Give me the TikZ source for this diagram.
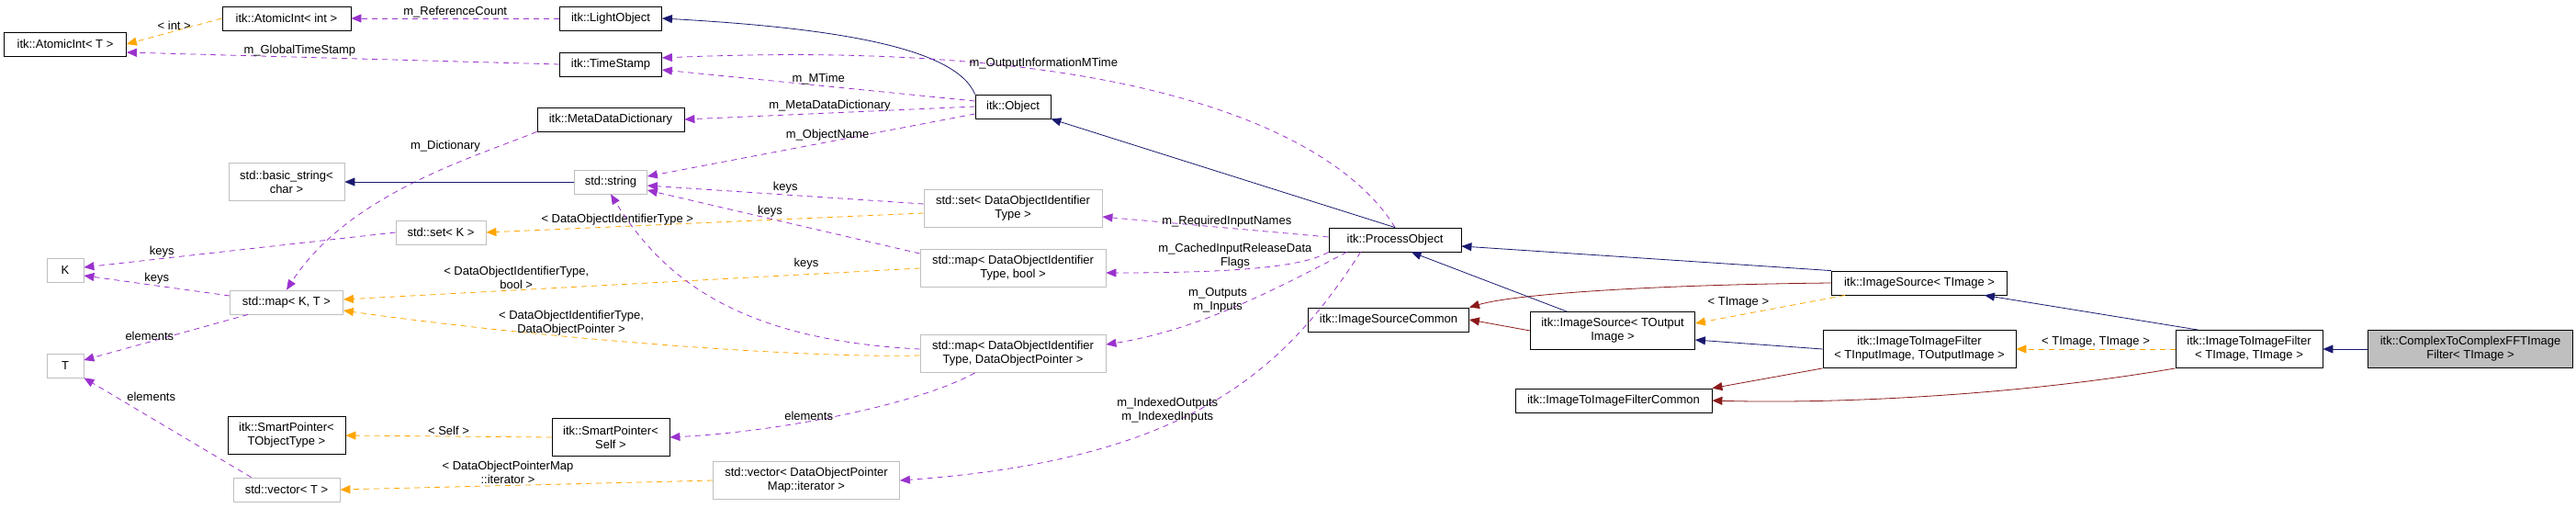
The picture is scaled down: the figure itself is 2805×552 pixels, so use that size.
\documentclass[tikz,border=0pt]{standalone}
\usepackage{fontspec}
\setmainfont{Liberation Sans}
\usetikzlibrary{arrows.meta,calc}
\definecolor{inh}{HTML}{191970}
\definecolor{usec}{HTML}{9A32CD}
\definecolor{tmpl}{HTML}{FFA500}
\definecolor{dred}{HTML}{8B1A1A}
\definecolor{gbord}{HTML}{BFBFBF}
\begin{document}
\begin{tikzpicture}[x=1pt,y=-1pt,font=\fontsize{13}{15}\selectfont,
  cls/.style={draw=black,thick,inner sep=0pt,minimum height=26pt,align=center,fill=white},
  stdc/.style={draw=gbord,thick,inner sep=0pt,minimum height=26pt,align=center,fill=white},
  tall/.style={minimum height=41pt},
  tip/.style={-{Triangle[length=11pt,width=9pt]}},
  inhe/.style={tip,draw=inh,thick},
  usee/.style={tip,draw=usec,thick,dash pattern=on 6pt off 5pt},
  tple/.style={tip,draw=tmpl,thick,dash pattern=on 6pt off 5pt},
  rede/.style={tip,draw=dred,thick},
  lbl/.style={inner sep=1pt,align=center}]
\useasboundingbox (0,0) rectangle (2805,552);
% nodes
\node[cls,minimum width=133pt] (ait) at (71,48) {itk::AtomicInt< T >};
\node[cls,minimum width=140pt] (aii) at (312,20) {itk::AtomicInt< int >};
\node[cls,minimum width=111pt] (lo) at (665,20) {itk::LightObject};
\node[cls,minimum width=111pt] (ts) at (665,70) {itk::TimeStamp};
\node[cls,minimum width=160pt] (mdd) at (665,130) {itk::MetaDataDictionary};
\node[cls,minimum width=82pt] (obj) at (1103,116) {itk::Object};
\node[stdc,tall,minimum width=126pt] (bs) at (312,198) {std::basic\_string<\\char >};
\node[stdc,minimum width=79pt] (str) at (665,198) {std::string};
\node[stdc,minimum width=98pt] (setk) at (480,253) {std::set< K >};
\node[stdc,minimum width=40pt] (K) at (71,294) {K};
\node[stdc,minimum width=123pt] (mapkt) at (312,329) {std::map< K, T >};
\node[stdc,minimum width=40pt] (T) at (71,398) {T};
\node[cls,tall,minimum width=128pt] (spt) at (312,474) {itk::SmartPointer<\\TObjectType >};
\node[stdc,minimum width=116pt] (vt) at (312,533) {std::vector< T >};
\node[cls,tall,minimum width=128pt] (sps) at (665,476) {itk::SmartPointer<\\Self >};
\node[stdc,tall,minimum width=194pt] (setd) at (1103,227) {std::set< DataObjectIdentifier\\Type >};
\node[stdc,tall,minimum width=202pt] (mapb) at (1103,292) {std::map< DataObjectIdentifier\\Type, bool >};
\node[stdc,tall,minimum width=202pt] (mapp) at (1103,385) {std::map< DataObjectIdentifier\\Type, DataObjectPointer >};
\node[stdc,tall,minimum width=203pt] (vit) at (878,523) {std::vector< DataObjectPointer\\Map::iterator >};
\node[cls,minimum width=144pt] (po) at (1519,261) {itk::ProcessObject};
\node[cls,minimum width=191pt] (ist) at (2090,308) {itk::ImageSource< TImage >};
\node[cls,minimum width=175pt] (isc) at (1512,348) {itk::ImageSourceCommon};
\node[cls,tall,minimum width=179pt] (iso) at (1756,360) {itk::ImageSource< TOutput\\Image >};
\node[cls,tall,minimum width=210pt] (iif) at (2090,380) {itk::ImageToImageFilter\\< TInputImage, TOutputImage >};
\node[cls,minimum width=214pt] (iic) at (1757,436) {itk::ImageToImageFilterCommon};
\node[cls,tall,minimum width=160pt] (iitt) at (2449,380) {itk::ImageToImageFilter\\< TImage, TImage >};
\node[cls,tall,minimum width=223pt,fill=gbord] (cc) at (2690,380) {itk::ComplexToComplexFFTImage\\Filter< TImage >};
% helper coordinates
\coordinate (poS1) at ($(po.south west)+(20,0)$);
\coordinate (poS2) at ($(po.south west)+(35,0)$);
\coordinate (poS3) at ($(po.south west)+(90,0)$);
\coordinate (mappS) at ($(mapp.south west)+(60,0)$);
\coordinate (mktS) at ($(mapkt.south west)+(20,0)$);
\coordinate (vtN) at ($(vt.north west)+(20,0)$);
\coordinate (istS) at ($(ist.south east)+(-25,0)$);
\coordinate (istSW) at ($(ist.south west)+(15,0)$);
\coordinate (isoN) at ($(iso.north west)+(40,0)$);
\coordinate (iittN) at ($(iitt.north west)+(25,0)$);
% edges
\draw[tple] (aii.west) -- node[lbl,above]{< int >} (ait.east);
\draw[usee] (lo.west) -- node[lbl,above]{m\_ReferenceCount} (aii.east);
\draw[usee] (ts.west) -- node[lbl,above,pos=0.6]{m\_GlobalTimeStamp} (ait.east |- 0,57);
\draw[inhe] (obj.north west) .. controls (1040,50) and (900,30) .. (lo.east);
\draw[usee] (obj.west |- 0,110) -- node[lbl,above]{m\_MTime} (ts.east |- 0,76);
\draw[usee] (po.north) .. controls (1460,150) and (1250,40) .. node[lbl,above,pos=0.68]{m\_OutputInformationMTime} (ts.east |- 0,63);
\draw[usee] (obj.west) -- node[lbl,above]{m\_MetaDataDictionary} (mdd.east);
\draw[usee] (obj.west |- 0,124) -- node[lbl,above,pos=0.45]{m\_ObjectName} (str.east |- 0,192);
\draw[usee] (mdd.south west) .. controls (520,170) and (380,210) .. node[lbl,pos=0.25,above left]{m\_Dictionary} (mapkt.north);
\draw[inhe] (str.west) -- (bs.east);
\draw[usee] (setd.west |- 0,222) -- node[lbl,above]{keys} (str.east |- 0,202);
\draw[tple] (setd.west |- 0,232) -- node[lbl,above,pos=0.7]{< DataObjectIdentifierType >} (setk.east);
\draw[usee] (mapb.west |- 0,276) -- node[lbl,above,pos=0.55]{keys} (str.east |- 0,207);
\draw[tple] (mapb.west) -- node[lbl,above,pos=0.7]{< DataObjectIdentifierType,\\bool >} (mapkt.east |- 0,326);
\draw[usee] (mapp.west |- 0,380) .. controls (800,370) and (720,300) .. (str.south);
\node[lbl] (keys3) at (878,287) {keys};
\draw[tple] (mapp.west |- 0,387) .. controls (880,390) and (600,370) .. node[lbl,above,pos=0.65]{< DataObjectIdentifierType,\\DataObjectPointer >} (mapkt.east |- 0,338);
\draw[usee] (mappS) .. controls (1000,440) and (850,470) .. node[lbl,above,pos=0.6]{elements} (sps.east);
\draw[tple] (sps.west) -- node[lbl,above]{< Self >} (spt.east);
\draw[tple] (vit.west) -- node[lbl,above,pos=0.55]{< DataObjectPointerMap\\::iterator >} (vt.east);
\draw[usee] (setk.west) -- node[lbl,above,pos=0.75]{keys} (K.east |- 0,291);
\draw[usee] (mapkt.west |- 0,322) -- node[lbl,above]{keys} (K.east |- 0,300);
\draw[usee] (mktS) -- node[lbl,above,pos=0.6]{elements} (T.east |- 0,392);
\draw[usee] (vtN) -- node[lbl,above right,pos=0.75]{elements} (T.south east);
\draw[usee] (po.west |- 0,258) -- node[lbl,above,pos=0.45]{m\_RequiredInputNames} (setd.east |- 0,236);
\draw[usee] (po.south west) .. controls (1420,290) and (1350,297) .. node[lbl,above,pos=0.6]{m\_CachedInputReleaseData\\Flags} (mapb.east |- 0,297);
\draw[usee] (poS1) .. controls (1380,320) and (1300,360) .. node[lbl,above,pos=0.55]{m\_Outputs\\m\_Inputs} (mapp.east |- 0,375);
\draw[usee] (poS2) .. controls (1400,400) and (1300,500) .. node[lbl,above,pos=0.6]{m\_IndexedOutputs\\m\_IndexedInputs} (vit.east);
\draw[inhe] (po.north) -- (obj.south east);
\draw[inhe] (ist.north west) -- (po.east |- 0,268);
\draw[rede] (ist.west) .. controls (1800,310) and (1650,320) .. (isc.north east);
\draw[tple] (istSW) -- node[lbl,above left]{< TImage >} (iso.east |- 0,352);
\draw[inhe] (isoN) -- (poS3);
\draw[rede] (iso.west) -- (isc.east);
\draw[inhe] (iif.west) -- (iso.east |- 0,370);
\draw[rede] (iif.south west) -- (iic.north east);
\draw[tple] (iitt.west) -- node[lbl,above]{< TImage, TImage >} (iif.east);
\draw[inhe] (iittN) -- (istS);
\draw[rede] (iitt.south west) .. controls (2200,430) and (2000,440) .. (iic.east);
\draw[inhe] (cc.west) -- (iitt.east);
\end{tikzpicture}
\end{document}
